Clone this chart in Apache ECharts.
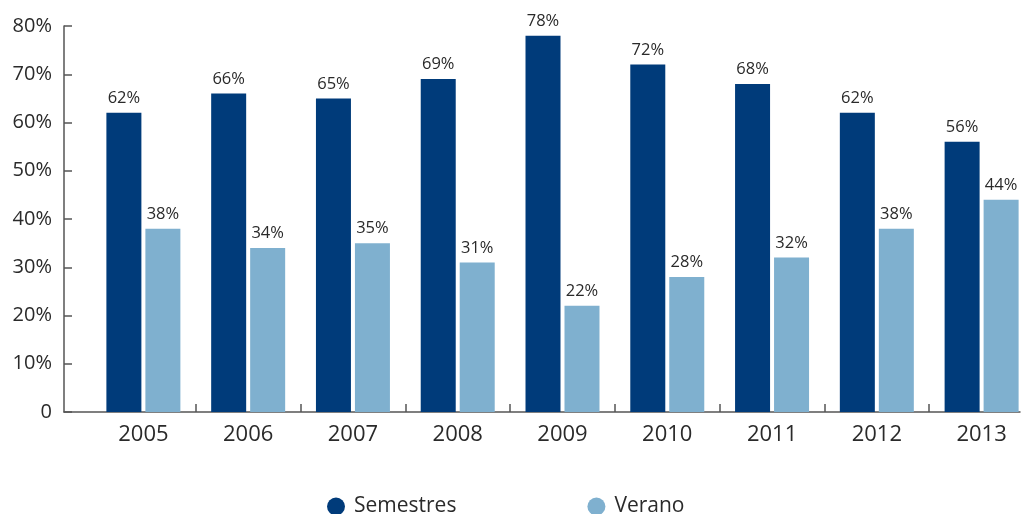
<!DOCTYPE html>
<html>
<head>
<meta charset="utf-8">
<script src="https://cdn.jsdelivr.net/npm/echarts@6/dist/echarts.min.js"></script>
<style>html,body{margin:0;padding:0;background:#fff;overflow:hidden;width:1024px;height:514px}#c{width:1034px;height:514px}</style>
</head>
<body>
<div id="c"></div>
<script>
const categories = ['2005','2006','2007','2008','2009','2010','2011','2012','2013'];
const semestres = [62, 66, 65, 69, 78, 72, 68, 62, 56];
const verano = [38, 34, 35, 31, 22, 28, 32, 38, 44];
const yTicks = [0, 10, 20, 30, 40, 50, 60, 70, 80];

const FONT = 'Open Sans';
const TXT = '#2a2a2a';
const chart = echarts.init(document.getElementById('c'), null, {renderer: 'canvas'});
const labelCfg = {show: true, position: 'top', distance: 6, formatter: '{c}%', color: TXT, fontFamily: FONT, fontSize: 16.5};
chart.setOption({
  animation: false,
  textStyle: {fontFamily: FONT},
  grid: [
    {left: 64, right: 14, top: 26, bottom: 102},
    {left: 91, right: 0, top: 26, bottom: 102}
  ],
  legend: {
    left: 327, top: 496, padding: 0, itemWidth: 18, itemHeight: 18, itemGap: 131, icon: 'circle',
    textStyle: {color: TXT, fontFamily: FONT, fontSize: 21, padding: [0, 0, 0, 4]},
    data: ['Semestres', 'Verano']
  },
  xAxis: [
    {type: 'category', gridIndex: 0, data: categories,
     axisLine: {show: true, lineStyle: {color: '#555', width: 1.5}},
     axisTick: {show: false}, axisLabel: {show: false}, splitLine: {show: false}},
    {type: 'category', gridIndex: 1, data: categories,
     axisLine: {show: false},
     axisTick: {show: true, inside: true, length: 8, interval: (i) => i > 0, lineStyle: {color: '#555', width: 1.5}},
     axisLabel: {show: true, color: TXT, fontFamily: FONT, fontSize: 22, margin: 12}}
  ],
  yAxis: [
    {type: 'value', gridIndex: 0, min: 0, max: 80, interval: 10,
     axisLine: {show: true, lineStyle: {color: '#555', width: 1.5}},
     axisTick: {show: true, inside: true, length: 8, lineStyle: {color: '#555', width: 1.5}},
     splitLine: {show: false},
     axisLabel: {color: TXT, fontFamily: FONT, fontSize: 20, margin: 12,
       formatter: v => (yTicks.indexOf(v) === 0 ? '0' : v + '%')}},
    {type: 'value', gridIndex: 1, min: 0, max: 80, interval: 10, show: false}
  ],
  series: [
    {name: 'Semestres', type: 'bar', xAxisIndex: 1, yAxisIndex: 1, data: semestres,
     barWidth: 35, barGap: '11.4%', itemStyle: {color: '#003b7a'}, label: labelCfg},
    {name: 'Verano', type: 'bar', xAxisIndex: 1, yAxisIndex: 1, data: verano,
     barWidth: 35, barGap: '11.4%', itemStyle: {color: '#7fb0cf'}, label: labelCfg}
  ]
});
</script>
</body>
</html>
